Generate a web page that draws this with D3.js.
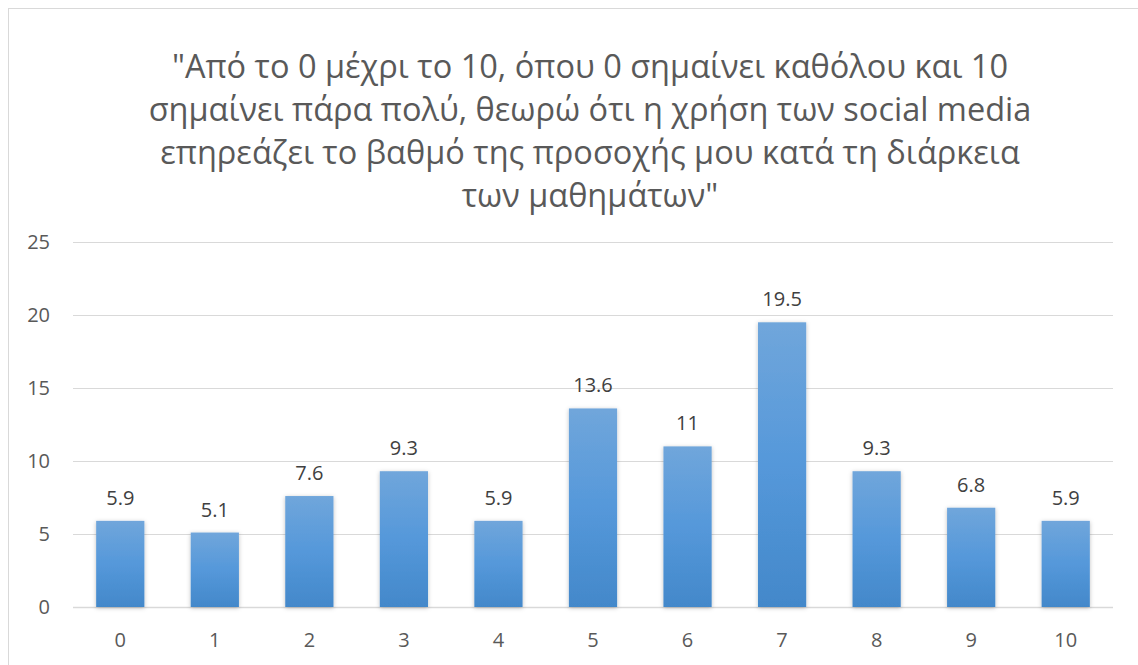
<!DOCTYPE html>
<html><head><meta charset="utf-8">
<script src="https://cdn.jsdelivr.net/npm/d3@7"></script>
<style>body{margin:0;background:#fff}svg{display:block}</style>
</head><body><svg id="c" width="1138" height="665"></svg>
<script>
const categories = ["0","1","2","3","4","5","6","7","8","9","10"];
const values = [5.9,5.1,7.6,9.3,5.9,13.6,11,19.5,9.3,6.8,5.9];
const yTicks = [0,5,10,15,20,25];
const titleLines = ["\"Από το 0 μέχρι το 10, όπου 0 σημαίνει καθόλου και 10",
  "σημαίνει πάρα πολύ, θεωρώ ότι η χρήση των social media",
  "επηρεάζει το βαθμό της προσοχής μου κατά τη διάρκεια",
  "των μαθημάτων\""];

const svg = d3.select("#c");
const font = "'Open Sans', sans-serif";
const grey = "#595959";
svg.append("rect").attr("x",8.5).attr("y",8.5).attr("width",1140).attr("height",670)
  .attr("fill","#fff").attr("stroke","#d9d9d9").attr("stroke-width",1);

const defs = svg.append("defs");
const g = defs.append("linearGradient").attr("id","bg").attr("x1",0).attr("y1",0).attr("x2",0).attr("y2",1);
g.append("stop").attr("offset","0%").attr("stop-color","#70a6db");
g.append("stop").attr("offset","50%").attr("stop-color","#5598da");
g.append("stop").attr("offset","100%").attr("stop-color","#4388ca");
const f = defs.append("filter").attr("id","sh").attr("x","-20%").attr("y","-5%").attr("width","140%").attr("height","115%");
f.append("feDropShadow").attr("dx",0).attr("dy",1).attr("stdDeviation",2).attr("flood-color","#000").attr("flood-opacity",0.25);

const x = d3.scaleBand().domain(categories).range([73,1113]).paddingInner(0.49).paddingOuter(0.245);
const y = d3.scaleLinear().domain([0,25]).range([607,242]);

// title
svg.append("g").selectAll("text").data(titleLines).join("text")
  .attr("x",590).attr("y",(d,i)=>78+i*43).attr("text-anchor","middle")
  .attr("font-family",font).attr("font-size",32.5).attr("fill",grey).text(d=>d);

// grid
svg.append("g").selectAll("line").data(yTicks).join("line")
  .attr("x1",73).attr("x2",1113).attr("y1",d=>Math.round(y(d))+0.5).attr("y2",d=>Math.round(y(d))+0.5)
  .attr("stroke","#d9d9d9").attr("stroke-width",d=>d===0?1.5:1);

// y axis labels
const ya = svg.append("g").attr("transform","translate(50,0)")
  .call(d3.axisLeft(y).tickValues(yTicks).tickSize(0).tickPadding(0));
ya.select(".domain").remove();
ya.selectAll("text").attr("font-family",font).attr("font-size",20).attr("fill",grey);

// bars
svg.append("g").selectAll("rect").data(values).join("rect")
  .attr("x",(d,i)=>x(categories[i])).attr("width",x.bandwidth())
  .attr("y",d=>y(d)).attr("height",d=>y(0)-y(d))
  .attr("fill","url(#bg)").attr("filter","url(#sh)");

// data labels
svg.append("g").selectAll("text").data(values).join("text")
  .attr("x",(d,i)=>x(categories[i])+x.bandwidth()/2).attr("y",d=>y(d)-16)
  .attr("text-anchor","middle").attr("font-family",font).attr("font-size",20).attr("fill","#404040")
  .text(d=>d);

// x axis
const xa = svg.append("g").attr("transform","translate(0,607)")
  .call(d3.axisBottom(x).tickSize(0).tickPadding(26));
xa.select(".domain").remove();
xa.selectAll("text").attr("font-family",font).attr("font-size",20).attr("fill",grey);
</script></body></html>
